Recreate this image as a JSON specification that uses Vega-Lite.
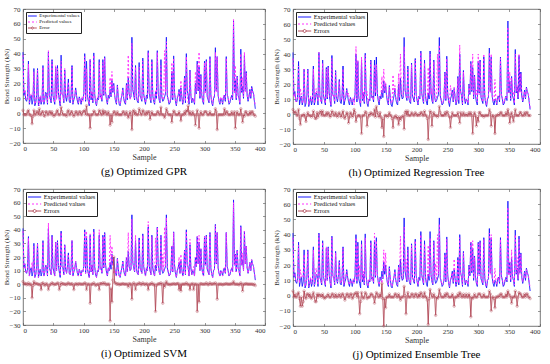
{
"$schema":"https://vega.github.io/schema/vega-lite/v6.json",
"padding":{"left":1,"top":4,"right":6,"bottom":0},
"config":{"font":"Liberation Serif","view":{"stroke":"#555","strokeWidth":0.8},
"axis":{"grid":false,"domain":false,"tickColor":"#555","tickSize":-2.5,"tickWidth":0.6,"labelFontSize":7,"labelColor":"#333","titleFontSize":7,"titleFontWeight":"normal","titleColor":"#333","labelFont":"Liberation Serif","titleFont":"Liberation Serif"},
"axisX":{"titleFontSize":8,"titlePadding":2,"labelPadding":3.5},
"axisY":{"titlePadding":0,"labelPadding":5.5},
"title":{"fontSize":11,"fontWeight":"normal","font":"Liberation Serif","color":"#000","offset":4.5},
"legend":{"orient":"top-left","title":null,"fillColor":"white","strokeColor":"#222","padding":1.5,"offset":3,"labelFontSize":6.3,"labelFont":"Liberation Serif","labelColor":"#111","symbolSize":36,"symbolStrokeWidth":1,"rowPadding":0,"labelOffset":5.6,"symbolOffset":3.6,"symbolType":"stroke","cornerRadius":0}},
"datasets":{"d":[
{"s":0,"E":41,"gp":39,"gr":2,"hp":37,"hr":3,"ip":39,"ir":2,"jp":38,"jr":3},
{"s":3,"E":15,"gp":16,"gr":-1,"hp":14,"hr":1,"ip":15,"ir":0.5,"jp":14,"jr":1},
{"s":6,"E":8,"gp":9,"gr":-1,"hp":9,"hr":-1,"ip":8,"ir":-0.5,"jp":9,"jr":-1},
{"s":9,"E":35,"gp":33,"gr":2,"hp":32,"hr":3,"ip":34,"ir":1,"jp":33,"jr":2},
{"s":12,"E":10,"gp":11,"gr":-1,"hp":17,"hr":-7,"ip":10,"ir":0,"jp":17,"jr":-7},
{"s":15,"E":6,"gp":13,"gr":-7,"hp":7,"hr":-1,"ip":16,"ir":-10,"jp":13,"jr":-7},
{"s":18,"E":30,"gp":28,"gr":2,"hp":30,"hr":0,"ip":28,"ir":2,"jp":27,"jr":3},
{"s":21,"E":7,"gp":8,"gr":-1,"hp":12,"hr":-5,"ip":7,"ir":0.5,"jp":9,"jr":-2},
{"s":24,"E":30,"gp":29,"gr":1,"hp":29,"hr":1,"ip":30,"ir":0,"jp":29,"jr":1},
{"s":27,"E":8,"gp":5,"gr":3,"hp":9,"hr":-1,"ip":8,"ir":-0.5,"jp":7,"jr":1},
{"s":30,"E":6,"gp":7,"gr":-1,"hp":8,"hr":-2,"ip":10,"ir":-4,"jp":8,"jr":-2},
{"s":33,"E":32,"gp":31,"gr":1,"hp":30,"hr":2,"ip":31,"ir":1,"jp":30,"jr":2},
{"s":36,"E":9,"gp":11,"gr":-2,"hp":12,"hr":-3,"ip":10,"ir":-1,"jp":13,"jr":-4},
{"s":39,"E":13,"gp":12,"gr":1,"hp":12,"hr":1,"ip":13,"ir":0.5,"jp":12,"jr":1},
{"s":42,"E":41,"gp":42,"gr":-1,"hp":41,"hr":0,"ip":45,"ir":-4,"jp":40,"jr":1},
{"s":45,"E":10,"gp":9,"gr":1,"hp":8,"hr":2,"ip":10,"ir":0,"jp":10,"jr":0},
{"s":48,"E":36,"gp":35,"gr":1,"hp":34,"hr":2,"ip":35,"ir":1,"jp":35,"jr":1},
{"s":51,"E":9,"gp":11,"gr":-2,"hp":10,"hr":-1,"ip":9,"ir":-0.5,"jp":11,"jr":-2},
{"s":54,"E":31,"gp":32,"gr":-1,"hp":30,"hr":1,"ip":31,"ir":0,"jp":32,"jr":-1},
{"s":57,"E":32,"gp":30,"gr":2,"hp":31,"hr":1,"ip":31,"ir":1,"jp":31,"jr":1},
{"s":60,"E":9,"gp":10,"gr":-1,"hp":11,"hr":-2,"ip":13,"ir":-4,"jp":10,"jr":-1},
{"s":63,"E":39,"gp":35,"gr":4,"hp":37,"hr":2,"ip":38,"ir":1,"jp":38,"jr":1},
{"s":66,"E":12,"gp":13,"gr":-1,"hp":13,"hr":-1,"ip":12,"ir":0.5,"jp":13,"jr":-1},
{"s":69,"E":29,"gp":30,"gr":-1,"hp":28,"hr":1,"ip":29,"ir":0,"jp":28,"jr":1},
{"s":72,"E":8,"gp":10,"gr":-2,"hp":10,"hr":-2,"ip":8,"ir":-0.5,"jp":9,"jr":-1},
{"s":75,"E":23,"gp":21,"gr":2,"hp":22,"hr":1,"ip":22,"ir":1,"jp":22,"jr":1},
{"s":78,"E":7,"gp":8,"gr":-1,"hp":9,"hr":-2,"ip":7,"ir":0,"jp":8,"jr":-1},
{"s":81,"E":32,"gp":31,"gr":1,"hp":30,"hr":2,"ip":32,"ir":0.5,"jp":31,"jr":1},
{"s":84,"E":9,"gp":11,"gr":-2,"hp":12,"hr":-3,"ip":13,"ir":-4,"jp":12,"jr":-3},
{"s":87,"E":17,"gp":16,"gr":1,"hp":16,"hr":1,"ip":17,"ir":0,"jp":16,"jr":1},
{"s":90,"E":8,"gp":9,"gr":-1,"hp":14,"hr":-6,"ip":8,"ir":-0.5,"jp":9,"jr":-1},
{"s":93,"E":11,"gp":10,"gr":1,"hp":10,"hr":1,"ip":11,"ir":0.5,"jp":10,"jr":1},
{"s":96,"E":6,"gp":7,"gr":-1,"hp":8,"hr":-2,"ip":6,"ir":0,"jp":8,"jr":-2},
{"s":99,"E":9,"gp":8,"gr":1,"hp":6,"hr":3,"ip":9,"ir":0,"jp":8,"jr":1},
{"s":102,"E":40,"gp":38,"gr":2,"hp":45,"hr":-5,"ip":39,"ir":1,"jp":38,"jr":2},
{"s":105,"E":35,"gp":30,"gr":5,"hp":36,"hr":-1,"ip":39,"ir":-4,"jp":33,"jr":2},
{"s":108,"E":8,"gp":9,"gr":-1,"hp":9,"hr":-1,"ip":8,"ir":0,"jp":20,"jr":-12},
{"s":111,"E":36,"gp":36,"gr":-10,"hp":38,"hr":-13,"ip":37,"ir":-14,"jp":34,"jr":2},
{"s":114,"E":14,"gp":15,"gr":-1,"hp":15,"hr":-1,"ip":14,"ir":0,"jp":16,"jr":-2},
{"s":117,"E":40.5,"gp":39,"gr":1.5,"hp":39,"hr":1.5,"ip":39,"ir":1,"jp":38,"jr":2},
{"s":120,"E":7,"gp":8,"gr":-1,"hp":15,"hr":-8,"ip":8,"ir":-1,"jp":9,"jr":-2},
{"s":123,"E":10,"gp":11,"gr":-1,"hp":10,"hr":0,"ip":10,"ir":0,"jp":11,"jr":-1},
{"s":126,"E":36,"gp":34,"gr":2,"hp":35,"hr":1,"ip":40,"ir":-4,"jp":35,"jr":1},
{"s":129,"E":12,"gp":13,"gr":-1,"hp":12,"hr":0,"ip":12,"ir":0.5,"jp":12,"jr":0},
{"s":132,"E":36,"gp":34,"gr":2,"hp":33,"hr":3,"ip":35,"ir":1,"jp":41,"jr":-5},
{"s":135,"E":38,"gp":37,"gr":1,"hp":33,"hr":5,"ip":37,"ir":1,"jp":36,"jr":2},
{"s":138,"E":9,"gp":10,"gr":-1,"hp":10,"hr":-1,"ip":9,"ir":-0.5,"jp":10,"jr":-1},
{"s":141,"E":12,"gp":11,"gr":1,"hp":11,"hr":1,"ip":12,"ir":0,"jp":11,"jr":1},
{"s":144,"E":16,"gp":24,"gr":-8,"hp":25,"hr":-9,"ip":36,"ir":-27,"jp":8,"jr":8},
{"s":147,"E":22,"gp":28,"gr":-6,"hp":30,"hr":-15,"ip":28,"ir":-13,"jp":30,"jr":-20},
{"s":150,"E":20,"gp":19,"gr":1,"hp":21,"hr":-1,"ip":8,"ir":20,"jp":28,"jr":-8},
{"s":153,"E":8,"gp":9,"gr":-1,"hp":10,"hr":-2,"ip":7,"ir":1,"jp":9,"jr":-1},
{"s":156,"E":19,"gp":18,"gr":1,"hp":18,"hr":1,"ip":19,"ir":0,"jp":18,"jr":1},
{"s":159,"E":6,"gp":7,"gr":-1,"hp":7,"hr":-1,"ip":6,"ir":-0.5,"jp":7,"jr":-1},
{"s":162,"E":9,"gp":10,"gr":-1,"hp":26,"hr":-9,"ip":9,"ir":0,"jp":10,"jr":-1},
{"s":165,"E":17,"gp":16,"gr":1,"hp":19,"hr":-2,"ip":17,"ir":0.5,"jp":16,"jr":1},
{"s":168,"E":7,"gp":8,"gr":-1,"hp":10,"hr":-3,"ip":7,"ir":0,"jp":8,"jr":-1},
{"s":171,"E":20,"gp":19,"gr":1,"hp":27,"hr":-7,"ip":20,"ir":0,"jp":19,"jr":1},
{"s":174,"E":24,"gp":39,"gr":-3,"hp":40,"hr":-4,"ip":38,"ir":-2,"jp":39,"jr":-3},
{"s":177,"E":10,"gp":9,"gr":1,"hp":12,"hr":-2,"ip":10,"ir":0,"jp":11,"jr":-1},
{"s":180,"E":51,"gp":47,"gr":-11,"hp":45,"hr":-10,"ip":48,"ir":-11,"jp":45,"jr":6},
{"s":183,"E":12,"gp":15,"gr":2,"hp":14,"hr":2,"ip":13,"ir":1,"jp":24,"jr":-12},
{"s":186,"E":32,"gp":31,"gr":1,"hp":30,"hr":2,"ip":36,"ir":-4,"jp":30,"jr":2},
{"s":189,"E":8,"gp":9,"gr":-1,"hp":9,"hr":-1,"ip":8,"ir":0,"jp":9,"jr":-1},
{"s":192,"E":34,"gp":31,"gr":3,"hp":33,"hr":1,"ip":33,"ir":1,"jp":33,"jr":1},
{"s":195,"E":10,"gp":11,"gr":-1,"hp":11,"hr":-1,"ip":10,"ir":-0.5,"jp":11,"jr":-1},
{"s":198,"E":37,"gp":35,"gr":2,"hp":36,"hr":1,"ip":36,"ir":1,"jp":36,"jr":1},
{"s":201,"E":9,"gp":10,"gr":-1,"hp":10,"hr":-1,"ip":9,"ir":0,"jp":10,"jr":-1},
{"s":204,"E":12,"gp":11,"gr":1,"hp":12,"hr":0,"ip":12,"ir":0.5,"jp":11,"jr":1},
{"s":207,"E":42,"gp":41,"gr":1,"hp":41,"hr":1,"ip":46,"ir":-4,"jp":40,"jr":2},
{"s":210,"E":10,"gp":14,"gr":-4,"hp":11,"hr":-1,"ip":10,"ir":0,"jp":11,"jr":-1},
{"s":213,"E":36,"gp":35,"gr":1,"hp":34,"hr":2,"ip":35,"ir":1,"jp":34,"jr":2},
{"s":216,"E":8,"gp":9,"gr":-1,"hp":9,"hr":-1,"ip":8,"ir":-0.5,"jp":9,"jr":-1},
{"s":219,"E":14,"gp":15,"gr":-1,"hp":31,"hr":-17,"ip":34,"ir":-20,"jp":33,"jr":-19},
{"s":222,"E":42,"gp":41,"gr":1,"hp":40,"hr":2,"ip":42,"ir":0,"jp":38,"jr":4},
{"s":225,"E":9,"gp":10,"gr":-1,"hp":17,"hr":-8,"ip":9,"ir":0.5,"jp":10,"jr":-1},
{"s":228,"E":36,"gp":32,"gr":4,"hp":35,"hr":1,"ip":35,"ir":1,"jp":35,"jr":1},
{"s":231,"E":8,"gp":9,"gr":-1,"hp":9,"hr":-1,"ip":22,"ir":-14,"jp":21,"jr":-13},
{"s":234,"E":11,"gp":42,"gr":-3,"hp":40,"hr":-2,"ip":42,"ir":-2,"jp":40,"jr":-2},
{"s":237,"E":51,"gp":48,"gr":3,"hp":46,"hr":5,"ip":49,"ir":2,"jp":47,"jr":4},
{"s":240,"E":9,"gp":10,"gr":-1,"hp":10,"hr":-1,"ip":9,"ir":0,"jp":10,"jr":-1},
{"s":243,"E":7,"gp":8,"gr":-1,"hp":8,"hr":-1,"ip":7,"ir":-0.5,"jp":8,"jr":-1},
{"s":246,"E":28,"gp":34,"gr":-6,"hp":27,"hr":1,"ip":28,"ir":0,"jp":27,"jr":1},
{"s":249,"E":38.5,"gp":37,"gr":1.5,"hp":37,"hr":1.5,"ip":38,"ir":0.5,"jp":37,"jr":1.5},
{"s":252,"E":8,"gp":9,"gr":-1,"hp":9,"hr":-1,"ip":8,"ir":0,"jp":9,"jr":-1},
{"s":255,"E":10,"gp":11,"gr":-1,"hp":19,"hr":-9,"ip":10,"ir":0.5,"jp":11,"jr":-1},
{"s":258,"E":16,"gp":15,"gr":1,"hp":15,"hr":1,"ip":20,"ir":-4,"jp":15,"jr":1},
{"s":261,"E":17,"gp":22,"gr":-5,"hp":18,"hr":-1,"ip":22,"ir":-5,"jp":24,"jr":-7},
{"s":264,"E":6,"gp":7,"gr":-1,"hp":7,"hr":-1,"ip":6,"ir":0,"jp":7,"jr":-1},
{"s":267,"E":25,"gp":24,"gr":1,"hp":24,"hr":1,"ip":25,"ir":0,"jp":24,"jr":1},
{"s":270,"E":40,"gp":38,"gr":2,"hp":46,"hr":-6,"ip":39,"ir":1,"jp":38,"jr":2},
{"s":273,"E":12,"gp":7,"gr":5,"hp":13,"hr":-1,"ip":12,"ir":-0.5,"jp":13,"jr":-1},
{"s":276,"E":29,"gp":28,"gr":1,"hp":28,"hr":1,"ip":33,"ir":-4,"jp":28,"jr":1},
{"s":279,"E":7,"gp":8,"gr":-1,"hp":8,"hr":-1,"ip":7,"ir":0,"jp":8,"jr":-1},
{"s":282,"E":9,"gp":10,"gr":-1,"hp":10,"hr":-1,"ip":13,"ir":-4,"jp":10,"jr":-1},
{"s":285,"E":20,"gp":28,"gr":-8,"hp":19,"hr":1,"ip":20,"ir":0,"jp":19,"jr":1},
{"s":288,"E":35,"gp":33,"gr":2,"hp":34,"hr":1,"ip":35,"ir":-20,"jp":35,"jr":-14},
{"s":291,"E":31,"gp":41,"gr":-10,"hp":40,"hr":-13,"ip":36,"ir":-13,"jp":36,"jr":-2},
{"s":294,"E":26,"gp":25,"gr":1,"hp":25,"hr":1,"ip":26,"ir":0.5,"jp":25,"jr":1},
{"s":297,"E":8,"gp":9,"gr":-1,"hp":16,"hr":-8,"ip":8,"ir":0,"jp":9,"jr":-1},
{"s":300,"E":35,"gp":34,"gr":1,"hp":40,"hr":-5,"ip":35,"ir":0,"jp":34,"jr":1},
{"s":303,"E":36,"gp":35,"gr":1,"hp":35,"hr":1,"ip":35,"ir":1,"jp":35,"jr":1},
{"s":306,"E":9,"gp":10,"gr":-1,"hp":10,"hr":-1,"ip":9,"ir":-0.5,"jp":10,"jr":-1},
{"s":309,"E":38,"gp":37,"gr":1,"hp":40,"hr":-2,"ip":37,"ir":1,"jp":37,"jr":1},
{"s":312,"E":7,"gp":8,"gr":-1,"hp":8,"hr":-1,"ip":7,"ir":0,"jp":8,"jr":-1},
{"s":315,"E":10,"gp":11,"gr":-1,"hp":11,"hr":-1,"ip":10,"ir":0.5,"jp":11,"jr":-1},
{"s":318,"E":44,"gp":41,"gr":3,"hp":41,"hr":3,"ip":43,"ir":1,"jp":41,"jr":3},
{"s":321,"E":38,"gp":38,"gr":-11,"hp":40,"hr":-8,"ip":38,"ir":-11,"jp":40,"jr":-10},
{"s":324,"E":8,"gp":9,"gr":-1,"hp":9,"hr":-1,"ip":8,"ir":0,"jp":9,"jr":-1},
{"s":327,"E":10,"gp":11,"gr":-1,"hp":23,"hr":-13,"ip":10,"ir":0,"jp":18,"jr":-8},
{"s":330,"E":6,"gp":7,"gr":-1,"hp":7,"hr":-1,"ip":6,"ir":-0.5,"jp":7,"jr":-1},
{"s":333,"E":12,"gp":9,"gr":3,"hp":12,"hr":0,"ip":12,"ir":0,"jp":12,"jr":0},
{"s":336,"E":38,"gp":37,"gr":1,"hp":37,"hr":1,"ip":38,"ir":0.5,"jp":37,"jr":1},
{"s":339,"E":10,"gp":11,"gr":-1,"hp":11,"hr":-1,"ip":10,"ir":0,"jp":11,"jr":-1},
{"s":342,"E":7,"gp":8,"gr":-1,"hp":8,"hr":-1,"ip":7,"ir":0,"jp":8,"jr":-1},
{"s":345,"E":12,"gp":11,"gr":1,"hp":11,"hr":1,"ip":12,"ir":0.5,"jp":11,"jr":1},
{"s":348,"E":62,"gp":63,"gr":-1,"hp":58,"hr":3,"ip":60,"ir":2,"jp":58,"jr":3},
{"s":351,"E":22,"gp":32,"gr":-10,"hp":28,"hr":-6,"ip":22,"ir":0,"jp":22,"jr":0},
{"s":354,"E":25,"gp":24,"gr":1,"hp":24,"hr":1,"ip":25,"ir":0,"jp":30,"jr":-5},
{"s":357,"E":10,"gp":11,"gr":-1,"hp":15,"hr":-5,"ip":10,"ir":-0.5,"jp":11,"jr":-1},
{"s":360,"E":43,"gp":40,"gr":3,"hp":40,"hr":3,"ip":42,"ir":1,"jp":40,"jr":3},
{"s":363,"E":18,"gp":24,"gr":-6,"hp":19,"hr":-1,"ip":23,"ir":-5,"jp":25,"jr":-7},
{"s":366,"E":39,"gp":41,"gr":-2,"hp":40,"hr":-1,"ip":39,"ir":0,"jp":37,"jr":2},
{"s":369,"E":28,"gp":27,"gr":1,"hp":27,"hr":1,"ip":28,"ir":0.5,"jp":27,"jr":1},
{"s":372,"E":8,"gp":9,"gr":-1,"hp":9,"hr":-1,"ip":8,"ir":0,"jp":9,"jr":-1},
{"s":375,"E":16,"gp":15,"gr":1,"hp":15,"hr":1,"ip":16,"ir":0,"jp":15,"jr":1},
{"s":378,"E":18,"gp":17,"gr":1,"hp":17,"hr":1,"ip":18,"ir":0,"jp":17,"jr":1},
{"s":381,"E":13,"gp":14,"gr":-1,"hp":14,"hr":-1,"ip":13,"ir":-0.5,"jp":14,"jr":-1},
{"s":384,"E":3,"gp":5,"gr":-2,"hp":4,"hr":-1,"ip":4,"ir":-1,"jp":5,"jr":-2},
{"s":1.5,"E":12,"gp":13,"gr":-1,"hp":11,"hr":1,"ip":12,"ir":0,"jp":13,"jr":-1},
{"s":4.5,"E":9,"gp":10,"gr":-1,"hp":8,"hr":1.5,"ip":9,"ir":0.5,"jp":10,"jr":-1},
{"s":7.5,"E":11,"gp":10,"gr":1,"hp":12,"hr":-1,"ip":11,"ir":0,"jp":10,"jr":1},
{"s":10.5,"E":6,"gp":7,"gr":-1,"hp":9,"hr":-3,"ip":6,"ir":-0.5,"jp":8,"jr":-2},
{"s":13.5,"E":12,"gp":13,"gr":-1.5,"hp":13,"hr":-1,"ip":12,"ir":0,"jp":12,"jr":-1},
{"s":16.5,"E":9,"gp":10,"gr":-2,"hp":10,"hr":-1,"ip":9,"ir":-1,"jp":12,"jr":-4},
{"s":19.5,"E":5,"gp":6,"gr":-1,"hp":7,"hr":-2,"ip":5,"ir":0,"jp":6,"jr":-1},
{"s":22.5,"E":12,"gp":11,"gr":1,"hp":13,"hr":-1,"ip":12,"ir":0.5,"jp":11,"jr":1},
{"s":25.5,"E":5,"gp":6,"gr":-1,"hp":6,"hr":-1,"ip":5,"ir":0,"jp":6,"jr":-1},
{"s":28.5,"E":11,"gp":12,"gr":-1,"hp":12,"hr":-1,"ip":11,"ir":0,"jp":12,"jr":-1},
{"s":31.5,"E":9,"gp":8,"gr":1,"hp":10,"hr":-1,"ip":9,"ir":0.5,"jp":9,"jr":0},
{"s":34.5,"E":6,"gp":7,"gr":-1.5,"hp":7,"hr":-1,"ip":6,"ir":0,"jp":7,"jr":-1},
{"s":37.5,"E":14,"gp":13,"gr":1,"hp":17,"hr":-3,"ip":14,"ir":0,"jp":18,"jr":-4},
{"s":40.5,"E":6,"gp":7,"gr":-1,"hp":8,"hr":-2,"ip":6,"ir":-0.5,"jp":7,"jr":-1},
{"s":43.5,"E":12,"gp":11,"gr":1,"hp":11,"hr":1,"ip":13,"ir":-1,"jp":12,"jr":0},
{"s":46.5,"E":7,"gp":8,"gr":-1,"hp":8,"hr":-1,"ip":7,"ir":0,"jp":8,"jr":-1},
{"s":49.5,"E":12,"gp":13,"gr":-1,"hp":13,"hr":-1,"ip":12,"ir":0.5,"jp":13,"jr":-1},
{"s":52.5,"E":6,"gp":7,"gr":-1,"hp":7,"hr":-1,"ip":6,"ir":0,"jp":7,"jr":-1},
{"s":55.5,"E":10,"gp":9,"gr":1,"hp":11,"hr":-1,"ip":10,"ir":0,"jp":10,"jr":0},
{"s":58.5,"E":14,"gp":15,"gr":-1,"hp":14,"hr":0,"ip":14,"ir":0.5,"jp":15,"jr":-1},
{"s":61.5,"E":5,"gp":6,"gr":-1,"hp":6,"hr":-1,"ip":6,"ir":-1,"jp":6,"jr":-1},
{"s":64.5,"E":13,"gp":12,"gr":1,"hp":12,"hr":1,"ip":13,"ir":0,"jp":12,"jr":1},
{"s":67.5,"E":7,"gp":8,"gr":-1,"hp":8,"hr":-1,"ip":7,"ir":0,"jp":8,"jr":-1},
{"s":70.5,"E":11,"gp":12,"gr":-1,"hp":12,"hr":-1,"ip":11,"ir":0,"jp":12,"jr":-1},
{"s":73.5,"E":13,"gp":12,"gr":1,"hp":13,"hr":0,"ip":13,"ir":0.5,"jp":13,"jr":0},
{"s":76.5,"E":8,"gp":9,"gr":-1,"hp":9,"hr":-1,"ip":8,"ir":0,"jp":9,"jr":-1},
{"s":79.5,"E":12,"gp":11,"gr":1,"hp":12,"hr":0,"ip":12,"ir":0,"jp":11,"jr":1},
{"s":82.5,"E":6,"gp":7,"gr":-1,"hp":8,"hr":-2,"ip":6,"ir":-0.5,"jp":7,"jr":-1},
{"s":85.5,"E":11,"gp":12,"gr":-1,"hp":12,"hr":-1,"ip":11,"ir":0,"jp":12,"jr":-1},
{"s":88.5,"E":12,"gp":11,"gr":1,"hp":12,"hr":0,"ip":12,"ir":0.5,"jp":11,"jr":1},
{"s":91.5,"E":6,"gp":7,"gr":-1,"hp":8,"hr":-2,"ip":6,"ir":0,"jp":7,"jr":-1},
{"s":94.5,"E":9,"gp":8,"gr":1,"hp":9,"hr":0,"ip":9,"ir":0,"jp":8,"jr":1},
{"s":97.5,"E":10,"gp":11,"gr":-1,"hp":11,"hr":-1,"ip":10,"ir":0,"jp":11,"jr":-1},
{"s":100.5,"E":13,"gp":12,"gr":1,"hp":12,"hr":1,"ip":13,"ir":0,"jp":12,"jr":1},
{"s":103.5,"E":8,"gp":9,"gr":-1,"hp":10,"hr":-2,"ip":8,"ir":0.5,"jp":9,"jr":-1},
{"s":106.5,"E":11,"gp":12,"gr":-1,"hp":12,"hr":-1,"ip":11,"ir":0,"jp":12,"jr":-1},
{"s":109.5,"E":5,"gp":6,"gr":-1,"hp":7,"hr":-2,"ip":5,"ir":0,"jp":9,"jr":-4},
{"s":112.5,"E":9,"gp":10,"gr":-1,"hp":10,"hr":-1,"ip":9,"ir":0,"jp":10,"jr":-1},
{"s":115.5,"E":7,"gp":8,"gr":-1,"hp":8,"hr":-1,"ip":7,"ir":0,"jp":8,"jr":-1},
{"s":118.5,"E":13,"gp":12,"gr":1,"hp":12,"hr":1,"ip":13,"ir":0,"jp":12,"jr":1},
{"s":121.5,"E":5,"gp":6,"gr":-1,"hp":7,"hr":-2,"ip":5,"ir":-0.5,"jp":6,"jr":-1},
{"s":124.5,"E":9,"gp":10,"gr":-1,"hp":10,"hr":-1,"ip":9,"ir":0,"jp":10,"jr":-1},
{"s":127.5,"E":11,"gp":10,"gr":1,"hp":11,"hr":0,"ip":11,"ir":0.5,"jp":10,"jr":1},
{"s":130.5,"E":8,"gp":9,"gr":-1,"hp":9,"hr":-1,"ip":8,"ir":0,"jp":9,"jr":-1},
{"s":133.5,"E":12,"gp":13,"gr":-1,"hp":14,"hr":-2,"ip":12,"ir":0,"jp":13,"jr":-1},
{"s":136.5,"E":14,"gp":13,"gr":1,"hp":13,"hr":1,"ip":14,"ir":0,"jp":13,"jr":1},
{"s":139.5,"E":6,"gp":7,"gr":-1,"hp":8,"hr":-2,"ip":6,"ir":0,"jp":7,"jr":-1},
{"s":142.5,"E":10,"gp":11,"gr":-1,"hp":12,"hr":-2,"ip":10,"ir":0,"jp":11,"jr":-1},
{"s":145.5,"E":11,"gp":12,"gr":-1,"hp":14,"hr":-3,"ip":14,"ir":-3,"jp":13,"jr":-2},
{"s":148.5,"E":14,"gp":15,"gr":-1,"hp":15,"hr":-1,"ip":14,"ir":3,"jp":16,"jr":-2},
{"s":151.5,"E":12,"gp":11,"gr":1,"hp":13,"hr":-1,"ip":11,"ir":1,"jp":13,"jr":-1},
{"s":154.5,"E":6,"gp":7,"gr":-1,"hp":7,"hr":-1,"ip":6,"ir":0,"jp":7,"jr":-1},
{"s":157.5,"E":11,"gp":12,"gr":-1,"hp":12,"hr":-1,"ip":11,"ir":0.5,"jp":12,"jr":-1},
{"s":160.5,"E":5,"gp":6,"gr":-1,"hp":8,"hr":-3,"ip":5,"ir":0,"jp":6,"jr":-1},
{"s":163.5,"E":12,"gp":13,"gr":-1,"hp":14,"hr":-2,"ip":12,"ir":0,"jp":13,"jr":-1},
{"s":166.5,"E":10,"gp":9,"gr":1,"hp":11,"hr":-1,"ip":10,"ir":0,"jp":9,"jr":1},
{"s":169.5,"E":6,"gp":7,"gr":-1,"hp":8,"hr":-2,"ip":6,"ir":0,"jp":7,"jr":-1},
{"s":172.5,"E":9,"gp":10,"gr":-1,"hp":11,"hr":-2,"ip":9,"ir":0,"jp":10,"jr":-1},
{"s":175.5,"E":13,"gp":14,"gr":-1,"hp":15,"hr":-2,"ip":13,"ir":0.5,"jp":14,"jr":-1},
{"s":178.5,"E":11,"gp":12,"gr":-1,"hp":12,"hr":-1,"ip":11,"ir":0,"jp":12,"jr":-1},
{"s":181.5,"E":16,"gp":15,"gr":1,"hp":15,"hr":1,"ip":16,"ir":0,"jp":16,"jr":0},
{"s":184.5,"E":9,"gp":10,"gr":-1,"hp":10,"hr":-1,"ip":9,"ir":0,"jp":10,"jr":-1},
{"s":187.5,"E":11,"gp":12,"gr":-1,"hp":12,"hr":-1,"ip":11,"ir":0,"jp":12,"jr":-1},
{"s":190.5,"E":7,"gp":8,"gr":-1,"hp":8,"hr":-1,"ip":7,"ir":0,"jp":8,"jr":-1},
{"s":193.5,"E":12,"gp":11,"gr":1,"hp":12,"hr":0,"ip":12,"ir":0.5,"jp":11,"jr":1},
{"s":196.5,"E":8,"gp":9,"gr":-1,"hp":9,"hr":-1,"ip":8,"ir":0,"jp":9,"jr":-1},
{"s":199.5,"E":13,"gp":12,"gr":1,"hp":13,"hr":0,"ip":13,"ir":0,"jp":12,"jr":1},
{"s":202.5,"E":6,"gp":7,"gr":-1,"hp":7,"hr":-1,"ip":6,"ir":-0.5,"jp":7,"jr":-1},
{"s":205.5,"E":10,"gp":11,"gr":-1,"hp":11,"hr":-1,"ip":10,"ir":0,"jp":11,"jr":-1},
{"s":208.5,"E":14,"gp":13,"gr":1,"hp":13,"hr":1,"ip":14,"ir":0,"jp":13,"jr":1},
{"s":211.5,"E":7,"gp":8,"gr":-1,"hp":8,"hr":-1,"ip":7,"ir":0,"jp":8,"jr":-1},
{"s":214.5,"E":12,"gp":13,"gr":-1,"hp":13,"hr":-1,"ip":12,"ir":0,"jp":13,"jr":-1},
{"s":217.5,"E":6,"gp":7,"gr":-1,"hp":9,"hr":-3,"ip":6,"ir":0,"jp":9,"jr":-3},
{"s":220.5,"E":10,"gp":11,"gr":-1,"hp":12,"hr":-2,"ip":11,"ir":-1,"jp":12,"jr":-2},
{"s":223.5,"E":14,"gp":13,"gr":1,"hp":13,"hr":1,"ip":14,"ir":0,"jp":13,"jr":1},
{"s":226.5,"E":7,"gp":8,"gr":-1,"hp":8,"hr":-1,"ip":7,"ir":0,"jp":8,"jr":-1},
{"s":229.5,"E":11,"gp":12,"gr":-1,"hp":12,"hr":-1,"ip":11,"ir":0,"jp":12,"jr":-1},
{"s":232.5,"E":9,"gp":10,"gr":-1,"hp":10,"hr":-1,"ip":9,"ir":0.5,"jp":10,"jr":-1},
{"s":235.5,"E":13,"gp":14,"gr":-1,"hp":14,"hr":-1,"ip":13,"ir":0,"jp":14,"jr":-1},
{"s":238.5,"E":12,"gp":11,"gr":1,"hp":11,"hr":1,"ip":12,"ir":0,"jp":11,"jr":1},
{"s":241.5,"E":6,"gp":7,"gr":-1,"hp":7,"hr":-1,"ip":6,"ir":0,"jp":7,"jr":-1},
{"s":244.5,"E":10,"gp":11,"gr":-1,"hp":11,"hr":-1,"ip":10,"ir":0,"jp":11,"jr":-1},
{"s":247.5,"E":9,"gp":10,"gr":-1,"hp":10,"hr":-1,"ip":9,"ir":0,"jp":10,"jr":-1},
{"s":250.5,"E":14,"gp":13,"gr":1,"hp":13,"hr":1,"ip":14,"ir":0,"jp":13,"jr":1},
{"s":253.5,"E":5,"gp":6,"gr":-1,"hp":7,"hr":-2,"ip":5,"ir":0,"jp":6,"jr":-1},
{"s":256.5,"E":12,"gp":13,"gr":-1,"hp":14,"hr":-2,"ip":12,"ir":0.5,"jp":13,"jr":-1},
{"s":259.5,"E":8,"gp":9,"gr":-1,"hp":9,"hr":-1,"ip":8,"ir":0,"jp":9,"jr":-1},
{"s":262.5,"E":11,"gp":12,"gr":-1,"hp":12,"hr":-1,"ip":11,"ir":0,"jp":12,"jr":-1},
{"s":265.5,"E":9,"gp":10,"gr":-1,"hp":10,"hr":-1,"ip":9,"ir":0,"jp":10,"jr":-1},
{"s":268.5,"E":7,"gp":8,"gr":-1,"hp":9,"hr":-2,"ip":7,"ir":0,"jp":8,"jr":-1},
{"s":271.5,"E":15,"gp":14,"gr":1,"hp":14,"hr":1,"ip":15,"ir":0,"jp":14,"jr":1},
{"s":274.5,"E":6,"gp":7,"gr":-1,"hp":7,"hr":-1,"ip":6,"ir":0,"jp":7,"jr":-1},
{"s":277.5,"E":12,"gp":13,"gr":-1,"hp":13,"hr":-1,"ip":12,"ir":0,"jp":13,"jr":-1},
{"s":280.5,"E":10,"gp":9,"gr":1,"hp":10,"hr":0,"ip":10,"ir":0.5,"jp":9,"jr":1},
{"s":283.5,"E":6,"gp":7,"gr":-1,"hp":7,"hr":-1,"ip":6,"ir":0,"jp":7,"jr":-1},
{"s":286.5,"E":13,"gp":14,"gr":-1,"hp":14,"hr":-1,"ip":13,"ir":0,"jp":14,"jr":-1},
{"s":289.5,"E":15,"gp":16,"gr":-1,"hp":16,"hr":-1,"ip":15,"ir":0,"jp":16,"jr":-1},
{"s":292.5,"E":10,"gp":11,"gr":-1,"hp":11,"hr":-1,"ip":10,"ir":0,"jp":11,"jr":-1},
{"s":295.5,"E":12,"gp":13,"gr":-1,"hp":13,"hr":-1,"ip":12,"ir":0,"jp":13,"jr":-1},
{"s":298.5,"E":6,"gp":7,"gr":-1,"hp":8,"hr":-2,"ip":6,"ir":0,"jp":7,"jr":-1},
{"s":301.5,"E":14,"gp":13,"gr":1,"hp":13,"hr":1,"ip":14,"ir":0,"jp":13,"jr":1},
{"s":304.5,"E":11,"gp":12,"gr":-1,"hp":12,"hr":-1,"ip":11,"ir":0,"jp":12,"jr":-1},
{"s":307.5,"E":7,"gp":8,"gr":-1,"hp":8,"hr":-1,"ip":7,"ir":0,"jp":8,"jr":-1},
{"s":310.5,"E":12,"gp":13,"gr":-1,"hp":13,"hr":-1,"ip":12,"ir":0,"jp":13,"jr":-1},
{"s":313.5,"E":5,"gp":6,"gr":-1,"hp":6,"hr":-1,"ip":5,"ir":0,"jp":6,"jr":-1},
{"s":316.5,"E":11,"gp":12,"gr":-1,"hp":12,"hr":-1,"ip":11,"ir":0,"jp":12,"jr":-1},
{"s":319.5,"E":15,"gp":14,"gr":1,"hp":14,"hr":1,"ip":15,"ir":0,"jp":14,"jr":1},
{"s":322.5,"E":12,"gp":13,"gr":-1,"hp":13,"hr":-1,"ip":12,"ir":0,"jp":13,"jr":-1},
{"s":325.5,"E":6,"gp":7,"gr":-1,"hp":8,"hr":-2,"ip":6,"ir":0,"jp":8,"jr":-2},
{"s":328.5,"E":9,"gp":10,"gr":-1,"hp":10,"hr":-1,"ip":9,"ir":0,"jp":10,"jr":-1},
{"s":331.5,"E":11,"gp":12,"gr":-1,"hp":12,"hr":-1,"ip":11,"ir":0,"jp":12,"jr":-1},
{"s":334.5,"E":8,"gp":9,"gr":-1,"hp":9,"hr":-1,"ip":8,"ir":0,"jp":9,"jr":-1},
{"s":337.5,"E":13,"gp":12,"gr":1,"hp":12,"hr":1,"ip":13,"ir":0,"jp":12,"jr":1},
{"s":340.5,"E":6,"gp":7,"gr":-1,"hp":7,"hr":-1,"ip":6,"ir":0,"jp":7,"jr":-1},
{"s":343.5,"E":10,"gp":11,"gr":-1,"hp":11,"hr":-1,"ip":10,"ir":0,"jp":11,"jr":-1},
{"s":346.5,"E":9,"gp":10,"gr":-1,"hp":10,"hr":-1,"ip":9,"ir":0,"jp":10,"jr":-1},
{"s":349.5,"E":14,"gp":13,"gr":1,"hp":14,"hr":0,"ip":14,"ir":0,"jp":13,"jr":1},
{"s":352.5,"E":9,"gp":10,"gr":-1,"hp":10,"hr":-1,"ip":9,"ir":0,"jp":10,"jr":-1},
{"s":355.5,"E":12,"gp":13,"gr":-1,"hp":14,"hr":-2,"ip":12,"ir":0,"jp":13,"jr":-1},
{"s":358.5,"E":6,"gp":7,"gr":-1,"hp":7,"hr":-1,"ip":6,"ir":0,"jp":7,"jr":-1},
{"s":361.5,"E":14,"gp":15,"gr":-1,"hp":15,"hr":-1,"ip":14,"ir":0,"jp":15,"jr":-1},
{"s":364.5,"E":10,"gp":11,"gr":-1,"hp":11,"hr":-1,"ip":10,"ir":0,"jp":11,"jr":-1},
{"s":367.5,"E":15,"gp":14,"gr":1,"hp":14,"hr":1,"ip":15,"ir":0,"jp":14,"jr":1},
{"s":370.5,"E":12,"gp":13,"gr":-1,"hp":13,"hr":-1,"ip":12,"ir":0,"jp":13,"jr":-1},
{"s":373.5,"E":11,"gp":12,"gr":-1,"hp":12,"hr":-1,"ip":11,"ir":0,"jp":12,"jr":-1},
{"s":376.5,"E":10,"gp":11,"gr":-1,"hp":11,"hr":-1,"ip":10,"ir":0,"jp":11,"jr":-1},
{"s":379.5,"E":15,"gp":14,"gr":1,"hp":14,"hr":1,"ip":15,"ir":0,"jp":14,"jr":1},
{"s":382.5,"E":8,"gp":9,"gr":-1,"hp":9,"hr":-1,"ip":8,"ir":0,"jp":9,"jr":-1}
]},
"columns":2,
"spacing":{"row":45,"column":28},
"bounds":"flush",
"resolve":{"scale":{"color":"independent","strokeDash":"independent","x":"independent","y":"independent"},"legend":{"color":"independent","strokeDash":"independent"}},
"concat":[
{"width":242,"height":134,"title":{"text":"(g) Optimized GPR","orient":"bottom"},
"data":{"name":"d"},"transform":[{"fold":["E","gp","gr"],"as":["k","v"]}],
"resolve":{"axis":{"x":"independent","y":"independent"}},
"layer":[
{"mark":{"type":"line","strokeWidth":1},
"encoding":{
"x":{"field":"s","type":"quantitative","scale":{"domain":[0,400],"nice":false},"axis":{"title":"Sample","values":[0,50,100,150,200,250,300,350,400]}},
"y":{"field":"v","type":"quantitative","scale":{"domain":[-20,70],"nice":false},"axis":{"title":"Bond Strength (kN)","values":[-20,-10,0,10,20,30,40,50,60,70]}},
"color":{"field":"k","type":"nominal","scale":{"domain":["E","gp","gr"],"range":["#1a1aff","#ff30ff","#b44c5a"]},"legend":{"labelExpr":"datum.value=='E'?'Experimental values':datum.value=='gp'?'Predicted values':'Error'","labelFontSize":4.9,"symbolSize":16,"symbolOffset":2.4,"labelOffset":4.4,"encode":{"symbols":{"update":{"shape":{"signal":"datum.value=='gr'?'M-2.2,0H-0.5M0.5,0H2.2M0.5,0A0.5,0.5,0,1,1,-0.5,0A0.5,0.5,0,1,1,0.5,0':'M-2.2,0H2.2'"}}}}}},
"strokeDash":{"field":"k","type":"nominal","scale":{"domain":["E","gp","gr"],"range":[[1,0],[2,2],[1,0]]},"legend":{"labelExpr":"datum.value=='E'?'Experimental values':datum.value=='gp'?'Predicted values':'Error'","labelFontSize":4.9,"symbolSize":16,"symbolOffset":2.4,"labelOffset":4.4}}}},
{"transform":[{"filter":"datum.k=='gr'"}],"mark":{"type":"point","size":6,"filled":false,"strokeWidth":0.6,"color":"#b44c5a"},
"encoding":{"x":{"field":"s","type":"quantitative","scale":{"domain":[0,400],"nice":false},"axis":{"orient":"top","labels":false,"title":null,"values":[0,50,100,150,200,250,300,350,400]}},
"y":{"field":"v","type":"quantitative","scale":{"domain":[-20,70],"nice":false},"axis":{"orient":"right","labels":false,"title":null,"values":[-20,-10,0,10,20,30,40,50,60,70]}}}}]},
{"width":247,"height":135,"title":{"text":"(h) Optimized Regression Tree","orient":"bottom"},
"data":{"name":"d"},"transform":[{"fold":["E","hp","hr"],"as":["k","v"]}],
"resolve":{"axis":{"x":"independent","y":"independent"}},
"layer":[
{"mark":{"type":"line","strokeWidth":1},
"encoding":{
"x":{"field":"s","type":"quantitative","scale":{"domain":[0,400],"nice":false},"axis":{"title":"Sample","values":[0,50,100,150,200,250,300,350,400]}},
"y":{"field":"v","type":"quantitative","scale":{"domain":[-20,70],"nice":false},"axis":{"title":"Bond Strength (kN)","values":[-20,-10,0,10,20,30,40,50,60,70]}},
"color":{"field":"k","type":"nominal","scale":{"domain":["E","hp","hr"],"range":["#1a1aff","#ff30ff","#b44c5a"]},"legend":{"labelExpr":"datum.value=='E'?'Experimental values':datum.value=='hp'?'Predicted values':'Errors'","encode":{"symbols":{"update":{"shape":{"signal":"datum.value=='hr'?'M-2.2,0H-0.5M0.5,0H2.2M0.5,0A0.5,0.5,0,1,1,-0.5,0A0.5,0.5,0,1,1,0.5,0':'M-2.2,0H2.2'"}}}}}},
"strokeDash":{"field":"k","type":"nominal","scale":{"domain":["E","hp","hr"],"range":[[1,0],[2,2],[1,0]]},"legend":{"labelExpr":"datum.value=='E'?'Experimental values':datum.value=='hp'?'Predicted values':'Errors'"}}}},
{"transform":[{"filter":"datum.k=='hr'"}],"mark":{"type":"point","size":6,"filled":false,"strokeWidth":0.6,"color":"#b44c5a"},
"encoding":{"x":{"field":"s","type":"quantitative","scale":{"domain":[0,400],"nice":false},"axis":{"orient":"top","labels":false,"title":null,"values":[0,50,100,150,200,250,300,350,400]}},
"y":{"field":"v","type":"quantitative","scale":{"domain":[-20,70],"nice":false},"axis":{"orient":"right","labels":false,"title":null,"values":[-20,-10,0,10,20,30,40,50,60,70]}}}}]},
{"width":242,"height":136,"title":{"text":"(i) Optimized SVM","orient":"bottom"},
"data":{"name":"d"},"transform":[{"fold":["E","ip","ir"],"as":["k","v"]}],
"resolve":{"axis":{"x":"independent","y":"independent"}},
"layer":[
{"mark":{"type":"line","strokeWidth":1},
"encoding":{
"x":{"field":"s","type":"quantitative","scale":{"domain":[0,400],"nice":false},"axis":{"title":"Sample","values":[0,50,100,150,200,250,300,350,400]}},
"y":{"field":"v","type":"quantitative","scale":{"domain":[-30,70],"nice":false},"axis":{"title":"Bond Strength (kN)","values":[-30,-20,-10,0,10,20,30,40,50,60,70]}},
"color":{"field":"k","type":"nominal","scale":{"domain":["E","ip","ir"],"range":["#1a1aff","#ff30ff","#b44c5a"]},"legend":{"labelExpr":"datum.value=='E'?'Experimental values':datum.value=='ip'?'Predicted values':'Errors'","encode":{"symbols":{"update":{"shape":{"signal":"datum.value=='ir'?'M-2.2,0H-0.5M0.5,0H2.2M0.5,0A0.5,0.5,0,1,1,-0.5,0A0.5,0.5,0,1,1,0.5,0':'M-2.2,0H2.2'"}}}}}},
"strokeDash":{"field":"k","type":"nominal","scale":{"domain":["E","ip","ir"],"range":[[1,0],[2,2],[1,0]]},"legend":{"labelExpr":"datum.value=='E'?'Experimental values':datum.value=='ip'?'Predicted values':'Errors'"}}}},
{"transform":[{"filter":"datum.k=='ir'"}],"mark":{"type":"point","size":6,"filled":false,"strokeWidth":0.6,"color":"#b44c5a"},
"encoding":{"x":{"field":"s","type":"quantitative","scale":{"domain":[0,400],"nice":false},"axis":{"orient":"top","labels":false,"title":null,"values":[0,50,100,150,200,250,300,350,400]}},
"y":{"field":"v","type":"quantitative","scale":{"domain":[-30,70],"nice":false},"axis":{"orient":"right","labels":false,"title":null,"values":[-30,-20,-10,0,10,20,30,40,50,60,70]}}}}]},
{"width":247,"height":137,"title":{"text":"(j) Optimized Ensemble Tree","orient":"bottom"},
"data":{"name":"d"},"transform":[{"fold":["E","jp","jr"],"as":["k","v"]}],
"resolve":{"axis":{"x":"independent","y":"independent"}},
"layer":[
{"mark":{"type":"line","strokeWidth":1},
"encoding":{
"x":{"field":"s","type":"quantitative","scale":{"domain":[0,400],"nice":false},"axis":{"title":"Sample","values":[0,50,100,150,200,250,300,350,400]}},
"y":{"field":"v","type":"quantitative","scale":{"domain":[-20,70],"nice":false},"axis":{"title":"Bond Strength (kN)","values":[-20,-10,0,10,20,30,40,50,60,70]}},
"color":{"field":"k","type":"nominal","scale":{"domain":["E","jp","jr"],"range":["#1a1aff","#ff30ff","#b44c5a"]},"legend":{"labelExpr":"datum.value=='E'?'Experimental values':datum.value=='jp'?'Predicted values':'Errors'","encode":{"symbols":{"update":{"shape":{"signal":"datum.value=='jr'?'M-2.2,0H-0.5M0.5,0H2.2M0.5,0A0.5,0.5,0,1,1,-0.5,0A0.5,0.5,0,1,1,0.5,0':'M-2.2,0H2.2'"}}}}}},
"strokeDash":{"field":"k","type":"nominal","scale":{"domain":["E","jp","jr"],"range":[[1,0],[2,2],[1,0]]},"legend":{"labelExpr":"datum.value=='E'?'Experimental values':datum.value=='jp'?'Predicted values':'Errors'"}}}},
{"transform":[{"filter":"datum.k=='jr'"}],"mark":{"type":"point","size":6,"filled":false,"strokeWidth":0.6,"color":"#b44c5a"},
"encoding":{"x":{"field":"s","type":"quantitative","scale":{"domain":[0,400],"nice":false},"axis":{"orient":"top","labels":false,"title":null,"values":[0,50,100,150,200,250,300,350,400]}},
"y":{"field":"v","type":"quantitative","scale":{"domain":[-20,70],"nice":false},"axis":{"orient":"right","labels":false,"title":null,"values":[-20,-10,0,10,20,30,40,50,60,70]}}}}]}
]}
